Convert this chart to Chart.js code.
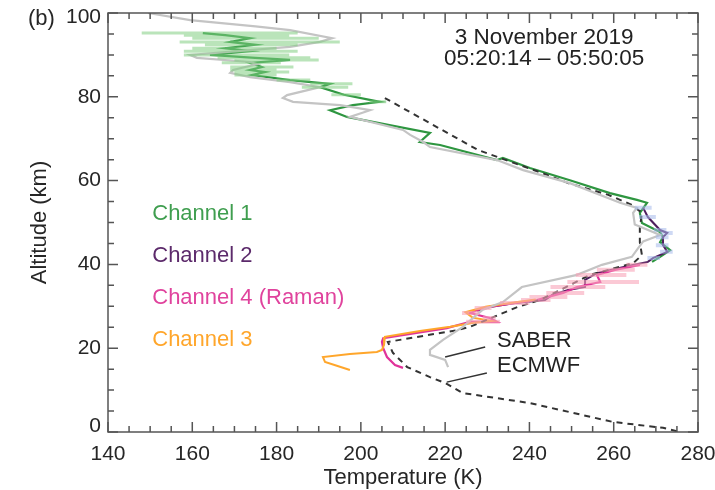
<!DOCTYPE html>
<html lang="en">
<head>
  <meta charset="UTF-8">
  <title>Temperature profiles, 3 November 2019</title>
  <script src="https://cdn.jsdelivr.net/npm/chart.js"></script>
  <style>
    html, body { margin: 0; padding: 0; background: #fff; }
    #wrap { width: 715px; height: 490px; }
  </style>
</head>
<body>
  <div id="wrap"><canvas id="chart" width="715" height="490"></canvas></div>

  <script>
    // axis ticks
    const xTicks = [140, 160, 180, 200, 220, 240, 260, 280];
    const yTicks = [0, 20, 40, 60, 80, 100];

    // SABER profile
    const saberT = [149.5, 159.5, 175, 183.2, 193.2, 190.3, 183.2, 159.5, 161.1, 173.7, 175.4, 169.7, 169.0, 173.7,
      183.2, 190.3, 182.5, 181.5, 183.9, 195.1, 202.2, 197.4, 210.0, 211.7, 214.8, 216.4, 232.3, 238.5, 249.6,
      261.5, 265.5, 264.6, 265.0, 271.0, 267.0, 265.8, 264.3, 257.2, 251.3, 238.2, 233.7, 228.8, 224.2, 219.5,
      216.4, 216.4, 220.0, 220.7];
    const saberAlt = [100, 98.3, 96.8, 95.9, 94.0, 93.1, 91.9, 90.0, 89.3, 88.3, 87.8, 86.4, 85.7, 84.7,
      83.5, 82.3, 80.4, 79.7, 78.8, 78.0, 76.8, 75.2, 72.1, 70.9, 69.2, 68.0, 64.9, 62.5, 59.4,
      54.7, 53.5, 52.3, 49.5, 47.0, 45.5, 43.9, 41.8, 39.9, 37.5, 34.6, 31.0, 29.1, 25.1, 22.0,
      19.6, 18.4, 17.2, 15.5];

    // ECMWF profile
    const ecmwfT = [205.7, 227.8, 243.0, 249.2, 258.7, 264.3, 266.7, 266.2, 266.2, 266.7, 264.6, 254.4, 247.3,
      242.5, 237.1, 225.9, 222.8, 206.4, 207.6, 211.0, 216.4, 220.0, 224.2, 240.1, 259.8, 271.7, 275.0];
    const ecmwfAlt = [79.7, 67.3, 61.8, 59.4, 56.6, 54.2, 52.3, 48.7, 45.3, 42.2, 40.3, 37.5, 33.9,
      31.5, 29.8, 25.1, 24.3, 21.5, 18.9, 15.5, 13.1, 11.7, 9.3, 6.9, 2.4, 1.0, 0.2];

    // Channel 1
    const ch1T = [162.5, 167.8, 173.7, 169.0, 174.9, 167.8, 173.7, 164.2, 174.9, 183.2, 173.7, 176.5, 173.7, 177.3,
      174.2, 183.2, 192.7, 190.3, 196.0, 204.5, 198.1, 192.7, 196.7, 216.4, 214.0, 218.8, 232.3, 233.7, 240.1,
      249.6, 259.1, 265.5, 267.9, 266.2, 266.7, 271.0, 271.7, 271.0, 273.4, 271.0, 269.1];
    const ch1Alt = [95.2, 94.7, 94.0, 93.1, 92.4, 91.6, 90.9, 90.0, 89.3, 88.8, 88.1, 87.1, 86.4, 85.9,
      85.2, 84.0, 83.1, 82.3, 80.5, 78.8, 78.0, 76.8, 75.2, 71.4, 69.2, 68.5, 64.9, 65.4, 63.0,
      60.1, 57.0, 55.4, 54.7, 52.3, 49.9, 47.7, 46.5, 45.3, 43.4, 41.8, 40.6];
    const ch1Lo = [148, 158, 160, 157, 163, 160, 158, 158, 166, 170, 167, 169, 169, 170,
      170, 180, 188, 186, 193, 202];
    const ch1Hi = [185, 183, 190, 195, 185, 180, 185, 183, 188, 190, 181, 184, 180, 183,
      180, 188, 198, 197, 200, 206];

    // Channel 2
    const ch2T = [267.0, 268.1, 271.0, 272.7, 271.7, 271.7, 272.7, 269.3, 268.1, 263.4, 256.0, 253.2, 253.2,
      249.2, 245.4, 243.7, 236.6, 230.6, 227.6];
    const ch2Alt = [53.5, 51.3, 48.2, 47.5, 46.5, 44.6, 43.0, 41.5, 40.6, 39.6, 37.9, 36.3, 34.6,
      33.9, 32.7, 31.5, 30.8, 29.8, 28.9];
    const ch2Lo = [265, 266, 269.5, 271, 270, 270, 271, 268];
    const ch2Hi = [269, 270, 272.5, 274, 273, 273, 274, 271];

    // Channel 4 (Raman)
    const ch4T = [266.2, 260.3, 256.0, 256.8, 251.3, 248.0, 244.2, 241.8, 236.6, 229.0, 225.9, 230.6, 232.3,
      225.9, 220.4, 205.3, 205.0, 205.3, 206.2, 208.1, 210.0];
    const ch4Alt = [39.9, 38.7, 37.5, 35.8, 34.6, 33.2, 32.2, 31.5, 30.8, 29.6, 28.4, 27.2, 26.3,
      26.3, 24.8, 22.4, 21.5, 20.0, 17.9, 16.0, 15.3];
    const ch4Lo = [263, 256, 251, 249, 245, 244, 240, 238, 233, 227, 224, 229, 225];
    const ch4Hi = [268, 265, 263, 266, 258, 253, 249, 245, 240, 231, 228, 232, 233];

    // Channel 3
    const ch3T = [241.5, 236.3, 229.6, 224.8, 226.5, 231.0, 226.8, 221.2, 214.0, 205.7, 205.5, 205.0, 203.8, 197.4,
      191.0, 191.5, 194.3, 197.4];
    const ch3Alt = [31.6, 30.9, 29.9, 28.6, 27.3, 26.5, 26.1, 25.1, 24.1, 22.7, 20.8, 19.6, 19.1, 18.6,
      17.9, 16.7, 15.8, 14.8];

    const FONT = '"Liberation Sans", Arial, sans-serif';

    function pts(ts, alts) {
      return ts.map((t, i) => ({ x: t, y: alts[i] }));
    }

    // horizontal uncertainty strokes, one per altitude, separated by gaps
    function bars(lo, hi, alts) {
      const out = [];
      lo.forEach((l, i) => {
        out.push({ x: l, y: alts[i] }, { x: hi[i], y: alts[i] }, { x: null, y: null });
      });
      return out;
    }

    function line(data, color, width, extra) {
      return Object.assign({
        data: data,
        showLine: true,
        borderColor: color,
        borderWidth: width,
        pointRadius: 0,
        fill: false,
        spanGaps: false
      }, extra || {});
    }

    const labels = {
      id: 'labels',
      afterDatasetsDraw(chart) {
        const { ctx, chartArea: a, scales: { x, y } } = chart;
        ctx.save();

        // frame with inward ticks on all sides
        ctx.strokeStyle = '#555';
        ctx.lineWidth = 1.5;
        ctx.strokeRect(a.left, a.top, a.right - a.left, a.bottom - a.top);
        ctx.beginPath();
        for (let t = 140; t <= 280; t += 5) {
          const px = x.getPixelForValue(t);
          const len = t % 20 === 0 ? 10 : 6;
          ctx.moveTo(px, a.bottom); ctx.lineTo(px, a.bottom - len);
          ctx.moveTo(px, a.top); ctx.lineTo(px, a.top + len);
        }
        for (let h = 0; h <= 100; h += 5) {
          const py = y.getPixelForValue(h);
          const len = h % 20 === 0 ? 10 : 6;
          ctx.moveTo(a.left, py); ctx.lineTo(a.left + len, py);
          ctx.moveTo(a.right, py); ctx.lineTo(a.right - len, py);
        }
        ctx.stroke();

        // tick labels; the end labels sit a little inside the axis range
        ctx.fillStyle = '#262626';
        ctx.font = '21px ' + FONT;
        ctx.textBaseline = 'middle';
        ctx.textAlign = 'center';
        xTicks.forEach(v => ctx.fillText(String(v), x.getPixelForValue(v), a.bottom + 22));
        ctx.textAlign = 'right';
        yTicks.forEach(v => {
          let py = y.getPixelForValue(v);
          if (v === yTicks[0]) py -= 6;
          if (v === yTicks[yTicks.length - 1]) py += 4;
          ctx.fillText(String(v), a.left - 7, py);
        });

        // axis titles
        ctx.font = '22px ' + FONT;
        ctx.textAlign = 'center';
        ctx.fillText('Temperature (K)', (a.left + a.right) / 2, a.bottom + 46);
        ctx.save();
        ctx.translate(40, (a.top + a.bottom) / 2);
        ctx.rotate(-Math.PI / 2);
        ctx.fillText('Altitude (km)', 0, 0);
        ctx.restore();

        ctx.textAlign = 'left';
        ctx.fillText('(b)', 28, 19);

        // pointers to the reference profiles
        ctx.strokeStyle = '#333';
        ctx.lineWidth = 1.5;
        ctx.beginPath();
        ctx.moveTo(x.getPixelForValue(220.0), y.getPixelForValue(17.9));
        ctx.lineTo(x.getPixelForValue(229.5), y.getPixelForValue(20.3));
        ctx.moveTo(x.getPixelForValue(220.4), y.getPixelForValue(11.9));
        ctx.lineTo(x.getPixelForValue(229.9), y.getPixelForValue(14.1));
        ctx.stroke();

        ctx.fillStyle = '#222';
        ctx.fillText('SABER', x.getPixelForValue(232.3), y.getPixelForValue(21.7));
        ctx.fillText('ECMWF', x.getPixelForValue(232.3), y.getPixelForValue(15.8));

        ctx.font = '22.5px ' + FONT;
        ctx.textAlign = 'center';
        ctx.fillText('3 November 2019', x.getPixelForValue(243.5), y.getPixelForValue(94.0));
        ctx.fillText('05:20:14 \u2013 05:50:05', x.getPixelForValue(243.5), y.getPixelForValue(89.0));

        ctx.font = '22px ' + FONT;
        ctx.textAlign = 'left';
        const names = [['Channel 1', '#3f9e4f', 52], ['Channel 2', '#5c2a6b', 42],
          ['Channel 4 (Raman)', '#e0439d', 32], ['Channel 3', '#ffa62b', 22]];
        names.forEach(([txt, col, h]) => {
          ctx.fillStyle = col;
          ctx.fillText(txt, x.getPixelForValue(150.5), y.getPixelForValue(h));
        });
        ctx.restore();
      }
    };

    const noPad = s => { s.paddingLeft = 0; s.paddingRight = 0; s.paddingTop = 0; s.paddingBottom = 0; };

    new Chart(document.getElementById('chart'), {
      type: 'scatter',
      data: {
        datasets: [
          line(bars(ch1Lo, ch1Hi, ch1Alt), 'rgba(130,205,130,0.55)', 3),
          line(bars(ch4Lo, ch4Hi, ch4Alt), 'rgba(248,165,185,0.6)', 4),
          line(bars(ch2Lo, ch2Hi, ch2Alt), 'rgba(165,185,235,0.55)', 4),
          line(pts(saberT, saberAlt), '#c4c4c4', 2.2),
          line(pts(ecmwfT, ecmwfAlt), '#333', 2, { borderDash: [6, 5] }),
          line(pts(ch3T, ch3Alt), '#ffa62b', 2),
          line(pts(ch4T, ch4Alt), '#e0339a', 2.2),
          line(pts(ch2T, ch2Alt), '#4f1f5e', 2),
          line(pts(ch1T, ch1Alt), '#2e9640', 2.2)
        ]
      },
      options: {
        responsive: false,
        animation: false,
        layout: { padding: { top: 13, right: 17, left: 0, bottom: 0 } },
        plugins: {
          legend: { display: false },
          tooltip: { enabled: false }
        },
        scales: {
          x: {
            type: 'linear',
            min: 140,
            max: 280,
            afterBuildTicks: s => { s.ticks = xTicks.map(v => ({ value: v })); },
            afterFit: s => { s.height = 58; noPad(s); },
            grid: { display: false },
            border: { display: false },
            ticks: { display: false }
          },
          y: {
            type: 'linear',
            min: 0,
            max: 100,
            afterBuildTicks: s => { s.ticks = yTicks.map(v => ({ value: v })); },
            afterFit: s => { s.width = 108; noPad(s); },
            grid: { display: false },
            border: { display: false },
            ticks: { display: false }
          }
        }
      },
      plugins: [labels]
    });
  </script>
</body>
</html>
